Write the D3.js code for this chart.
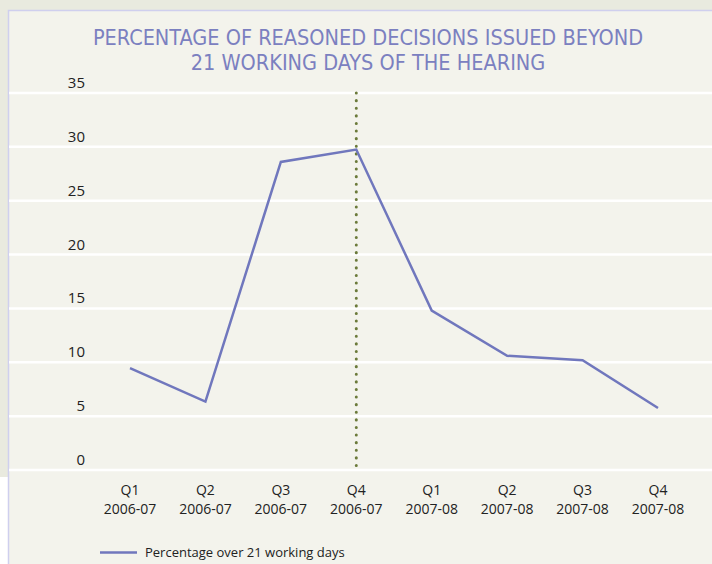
<!DOCTYPE html>
<html lang="en">
<head>
    <meta charset="UTF-8">
    <title>Reasoned decisions beyond 21 working days</title>
    <style>
        body { margin: 0; background: #ffffff; }
        svg { display: block; }
        .tick-label { font-family: "Open Sans", "Liberation Sans", sans-serif; font-size: 15px; fill: #222; }
    </style>
</head>
<body>
    <div id="chart"></div>

    <script src="https://d3js.org/d3.v7.min.js"></script>
    <script type="text/javascript">
// data
const quarters = ["Q1", "Q2", "Q3", "Q4", "Q1", "Q2", "Q3", "Q4"];
const years = ["2006-07", "2006-07", "2006-07", "2006-07", "2007-08", "2007-08", "2007-08", "2007-08"];
const pctOver21 = [9.45, 6.35, 28.6, 29.75, 14.8, 10.6, 10.2, 5.75];
const yTicks = [0, 5, 10, 15, 20, 25, 30, 35];
const markerIndex = 3; // dotted line at Q4 2006-07

const W = 712, H = 564;

const svg = d3.select("#chart")
    .append("svg")
    .attr("width", W)
    .attr("height", H);

// outer grey background and the panel
svg.append("rect").attr("x", 0).attr("y", 0).attr("width", W).attr("height", 477).attr("fill", "#e9eadf");
svg.append("rect")
    .attr("x", 8.5).attr("y", 10.5)
    .attr("width", W).attr("height", H)
    .attr("fill", "#f3f3ec")
    .attr("stroke", "#cfcfee")
    .attr("stroke-width", 1.5);

const keys = d3.range(pctOver21.length);
const xScale = d3.scalePoint().domain(keys).range([130, 658]);
const yScale = d3.scaleLinear().domain([0, 35]).range([470, 93]);

// gridlines
svg.selectAll(".grid")
    .data(yTicks)
    .enter()
    .append("line")
    .attr("class", "grid")
    .attr("x1", 9).attr("x2", W)
    .attr("y1", d => yScale(d)).attr("y2", d => yScale(d))
    .attr("stroke", "#ffffff")
    .attr("stroke-width", 2.5);

// y labels
svg.selectAll(".ylab")
    .data(yTicks)
    .enter()
    .append("text")
    .attr("class", "tick-label")
    .attr("x", 85)
    .attr("y", d => yScale(d) - 5)
    .attr("text-anchor", "end")
    .text(d => d);

// x labels, two rows: quarter over financial year
svg.selectAll(".xq")
    .data(keys)
    .enter()
    .append("text")
    .attr("class", "tick-label xq")
    .attr("text-anchor", "middle")
    .attr("x", d => xScale(d))
    .attr("y", 495)
    .style("font-size", "14px")
    .text(d => quarters[d]);
svg.selectAll(".xy")
    .data(keys)
    .enter()
    .append("text")
    .attr("class", "tick-label xy")
    .attr("text-anchor", "middle")
    .attr("x", d => xScale(d))
    .attr("y", 514)
    .style("font-size", "14px")
    .text(d => years[d]);

// dotted marker
svg.append("line")
    .attr("x1", xScale(markerIndex)).attr("x2", xScale(markerIndex))
    .attr("y1", yScale(35)).attr("y2", yScale(0))
    .attr("stroke", "#6b7a3a")
    .attr("stroke-width", 3)
    .attr("stroke-linecap", "round")
    .attr("stroke-dasharray", "0.1 7.5");

// the series
const line = d3.line()
    .x(d => xScale(d))
    .y(d => yScale(pctOver21[d]));

svg.append("path")
    .datum(keys)
    .attr("d", line)
    .attr("fill", "none")
    .attr("stroke", "#7077bd")
    .attr("stroke-width", 2.5);

// title
const title = svg.append("text")
    .attr("text-anchor", "middle")
    .attr("fill", "#7b80c0")
    .style("font-family", "'DejaVu Sans Condensed', 'Liberation Sans Narrow', sans-serif")
    .style("font-size", "21.5px");
title.append("tspan").attr("x", 368).attr("y", 45).text("PERCENTAGE OF REASONED DECISIONS ISSUED BEYOND");
title.append("tspan").attr("x", 368).attr("y", 70).text("21 WORKING DAYS OF THE HEARING");

// legend
svg.append("line")
    .attr("x1", 100).attr("x2", 137)
    .attr("y1", 552.5).attr("y2", 552.5)
    .attr("stroke", "#7077bd")
    .attr("stroke-width", 2.5);
svg.append("text")
    .attr("class", "tick-label")
    .attr("x", 145).attr("y", 557)
    .style("font-size", "13px")
    .text("Percentage over 21 working days");
    </script>
</body>
</html>
